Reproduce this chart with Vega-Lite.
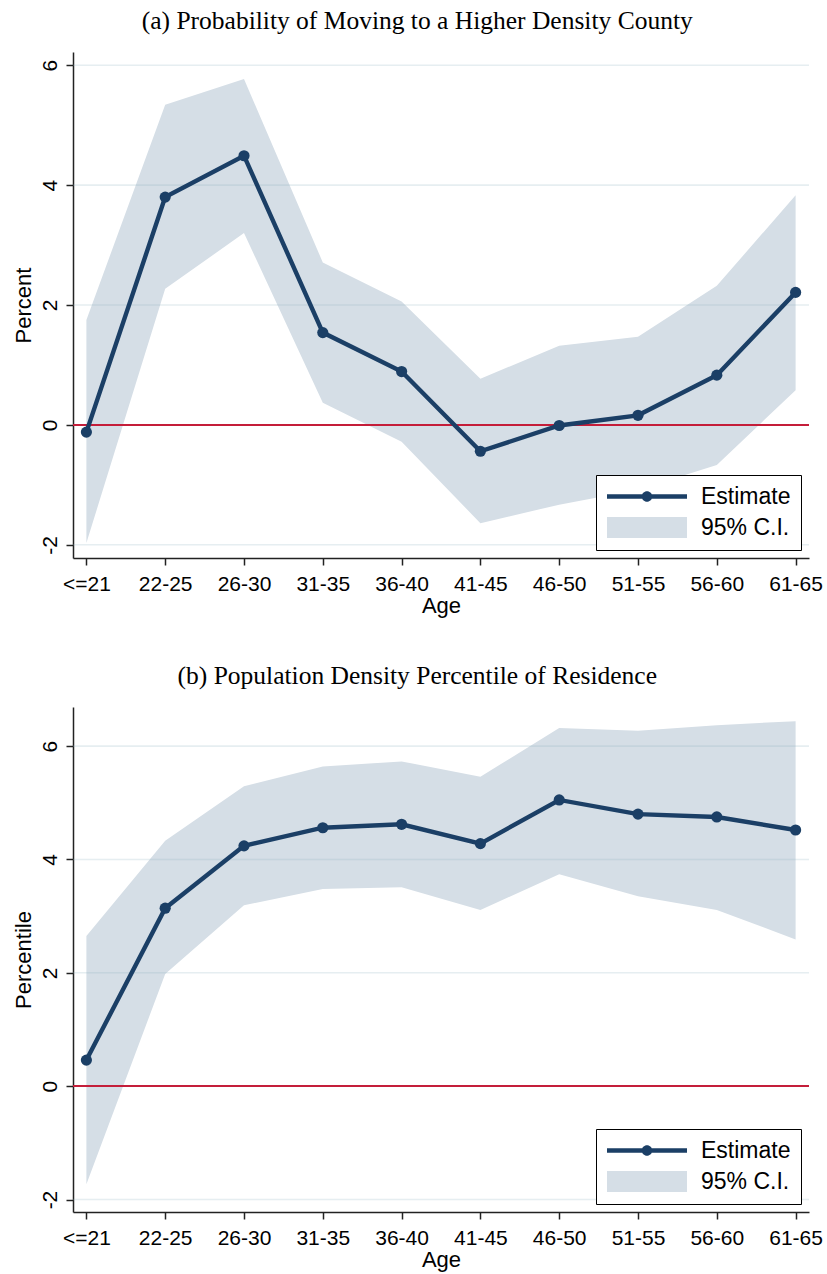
{
  "$schema": "https://vega.github.io/schema/vega-lite/v6.json",
  "background": "white",
  "padding": {"left": 12, "top": 8, "right": 2, "bottom": 4},
  "datasets": {
    "move_prob": [
      {"age": "<=21", "est": -0.12, "lo": -1.97, "hi": 1.75},
      {"age": "22-25", "est": 3.80, "lo": 2.27, "hi": 5.34},
      {"age": "26-30", "est": 4.49, "lo": 3.20, "hi": 5.77},
      {"age": "31-35", "est": 1.54, "lo": 0.37, "hi": 2.71},
      {"age": "36-40", "est": 0.89, "lo": -0.28, "hi": 2.06},
      {"age": "41-45", "est": -0.44, "lo": -1.64, "hi": 0.77},
      {"age": "46-50", "est": -0.01, "lo": -1.33, "hi": 1.32},
      {"age": "51-55", "est": 0.16, "lo": -1.08, "hi": 1.47},
      {"age": "56-60", "est": 0.83, "lo": -0.67, "hi": 2.32},
      {"age": "61-65", "est": 2.21, "lo": 0.58, "hi": 3.83}
    ],
    "density_pctile": [
      {"age": "<=21", "est": 0.46, "lo": -1.73, "hi": 2.65},
      {"age": "22-25", "est": 3.14, "lo": 1.98, "hi": 4.33},
      {"age": "26-30", "est": 4.24, "lo": 3.19, "hi": 5.29},
      {"age": "31-35", "est": 4.56, "lo": 3.48, "hi": 5.64},
      {"age": "36-40", "est": 4.62, "lo": 3.51, "hi": 5.73},
      {"age": "41-45", "est": 4.28, "lo": 3.11, "hi": 5.46},
      {"age": "46-50", "est": 5.05, "lo": 3.74, "hi": 6.32},
      {"age": "51-55", "est": 4.80, "lo": 3.35, "hi": 6.27},
      {"age": "56-60", "est": 4.75, "lo": 3.11, "hi": 6.37},
      {"age": "61-65", "est": 4.52, "lo": 2.59, "hi": 6.44}
    ],
    "grid_levels": [{"g": -2}, {"g": 0}, {"g": 2}, {"g": 4}, {"g": 6}]
  },
  "config": {
    "view": {"stroke": null},
    "font": "Liberation Sans",
    "title": {"font": "Liberation Serif", "fontSize": 25.5, "fontWeight": "normal", "color": "black", "anchor": "middle", "frame": "bounds", "offset": 18},
    "axis": {
      "labelFont": "Liberation Sans", "labelFontSize": 21, "labelColor": "black",
      "titleFont": "Liberation Sans", "titleFontSize": 22, "titleFontWeight": "normal", "titleColor": "black",
      "domainColor": "#222222", "domainWidth": 1.5, "tickColor": "#222222", "tickWidth": 1.5, "tickSize": 7
    },
    "legend": {
      "labelFont": "Liberation Sans", "labelFontSize": 23, "labelColor": "black", "labelLimit": 300,
      "title": null, "orient": "bottom-right", "offset": 8,
      "strokeColor": "black", "fillColor": "white",
      "padding": 10, "rowPadding": 7, "symbolSize": 441, "labelOffset": 72,
      "symbolStrokeWidth": 0, "symbolOpacity": 1
    }
  },
  "resolve": {
    "scale": {"color": "independent", "shape": "independent"},
    "legend": {"color": "independent", "shape": "independent"}
  },
  "spacing": 47,
  "vconcat": [
    {
      "title": "(a) Probability of Moving to a Higher Density County",
      "width": 736,
      "height": 506,
      "data": {"name": "move_prob"},
      "encoding": {
        "x": {
          "field": "age", "type": "ordinal", "sort": null,
          "scale": {"type": "point", "padding": 0.17},
          "axis": {"title": "Age", "labelAngle": 0, "labelPadding": 8, "titlePadding": 1, "grid": false}
        }
      },
      "layer": [
        {
          "mark": {"type": "area"},
          "encoding": {
            "y": {
              "field": "lo", "type": "quantitative",
              "scale": {"domain": [-2.22, 6.22], "nice": false, "zero": false},
              "axis": {
                "title": "Percent", "values": [-2, 0, 2, 4, 6], "labelExpr": "toString(datum.value)", "labelAngle": -90,
                "labelAlign": "center", "labelBaseline": "bottom", "labelPadding": 6, "titlePadding": 4,
                "grid": false
              }
            },
            "y2": {"field": "hi"},
            "color": {
              "datum": "95% C.I.",
              "scale": {"domain": ["Estimate", "95% C.I."], "range": ["#1b3f66", "#d5dee6"]}
            }
          }
        },
        {
          "data": {"name": "grid_levels"},
          "mark": {"type": "rule", "color": "#8fb0bf", "opacity": 0.22, "strokeWidth": 1.6},
          "encoding": {"y": {"field": "g", "type": "quantitative"}, "x": null}
        },
        {
          "mark": {"type": "rule", "color": "#c41e3a", "strokeWidth": 1.6},
          "encoding": {"y": {"datum": 0, "type": "quantitative"}, "x": null}
        },
        {
          "mark": {"type": "line", "strokeWidth": 4.4, "point": {"filled": true, "size": 125, "opacity": 1}},
          "encoding": {
            "y": {"field": "est", "type": "quantitative"},
            "color": {"datum": "Estimate"}
          }
        },
        {
          "transform": [{"filter": "false"}],
          "mark": {"type": "point", "filled": true, "opacity": 1},
          "encoding": {
            "y": {"field": "est", "type": "quantitative"},
            "color": {"datum": "Estimate"},
            "shape": {
              "datum": "Estimate",
              "scale": {
                "domain": ["Estimate", "95% C.I."],
                "range": [
                  "M-1,-0.22 H6.62 V0.22 H-1 Z M3.31,0 A0.5,0.5 0 1,1 2.31,0 A0.5,0.5 0 1,1 3.31,0 Z",
                  "M-1,-1 H6.62 V1 H-1 Z"
                ]
              }
            }
          }
        }
      ]
    },
    {
      "title": "(b) Population Density Percentile of Residence",
      "width": 736,
      "height": 505,
      "data": {"name": "density_pctile"},
      "encoding": {
        "x": {
          "field": "age", "type": "ordinal", "sort": null,
          "scale": {"type": "point", "padding": 0.17},
          "axis": {"title": "Age", "labelAngle": 0, "labelPadding": 8, "titlePadding": 1, "grid": false}
        }
      },
      "layer": [
        {
          "mark": {"type": "area"},
          "encoding": {
            "y": {
              "field": "lo", "type": "quantitative",
              "scale": {"domain": [-2.22, 6.69], "nice": false, "zero": false},
              "axis": {
                "title": "Percentile", "values": [-2, 0, 2, 4, 6], "labelExpr": "toString(datum.value)", "labelAngle": -90,
                "labelAlign": "center", "labelBaseline": "bottom", "labelPadding": 6, "titlePadding": 4,
                "grid": false
              }
            },
            "y2": {"field": "hi"},
            "color": {
              "datum": "95% C.I.",
              "scale": {"domain": ["Estimate", "95% C.I."], "range": ["#1b3f66", "#d5dee6"]}
            }
          }
        },
        {
          "data": {"name": "grid_levels"},
          "mark": {"type": "rule", "color": "#8fb0bf", "opacity": 0.22, "strokeWidth": 1.6},
          "encoding": {"y": {"field": "g", "type": "quantitative"}, "x": null}
        },
        {
          "mark": {"type": "rule", "color": "#c41e3a", "strokeWidth": 1.6},
          "encoding": {"y": {"datum": 0, "type": "quantitative"}, "x": null}
        },
        {
          "mark": {"type": "line", "strokeWidth": 4.4, "point": {"filled": true, "size": 125, "opacity": 1}},
          "encoding": {
            "y": {"field": "est", "type": "quantitative"},
            "color": {"datum": "Estimate"}
          }
        },
        {
          "transform": [{"filter": "false"}],
          "mark": {"type": "point", "filled": true, "opacity": 1},
          "encoding": {
            "y": {"field": "est", "type": "quantitative"},
            "color": {"datum": "Estimate"},
            "shape": {
              "datum": "Estimate",
              "scale": {
                "domain": ["Estimate", "95% C.I."],
                "range": [
                  "M-1,-0.22 H6.62 V0.22 H-1 Z M3.31,0 A0.5,0.5 0 1,1 2.31,0 A0.5,0.5 0 1,1 3.31,0 Z",
                  "M-1,-1 H6.62 V1 H-1 Z"
                ]
              }
            }
          }
        }
      ]
    }
  ]
}
